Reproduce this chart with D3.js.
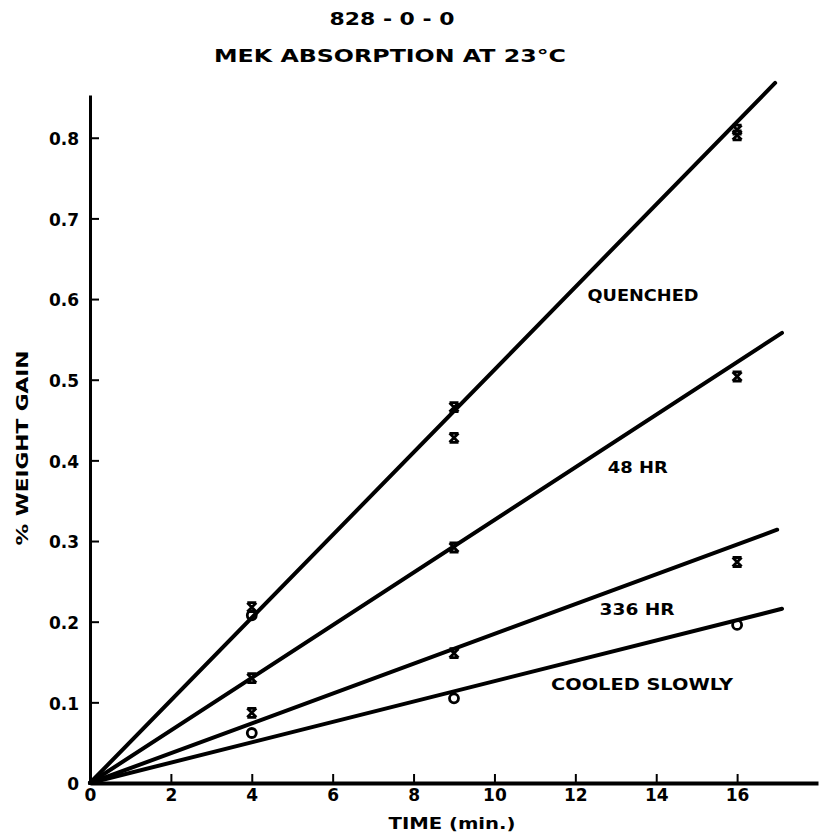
<!DOCTYPE html>
<meta charset="utf-8">
<script src="https://d3js.org/d3.v7.min.js"></script>
<style>
body { margin: 0; background: #fff; }
svg text { font-family: "DejaVu Sans", sans-serif; font-weight: 700; fill: #000; }
.tick text { font-size: 17px; }
.title { font-size: 18px; }
.label { font-size: 16px; }
</style>
<div id="chart"></div>
<script>
// [time, % weight gain]
const quenchedA = [[4, 0.218], [9, 0.466], [16, 0.81]];
const quenchedB = [[9, 0.428], [16, 0.803]];
const quenchedO = [[4, 0.208]];
const hr48 = [[4, 0.130], [9, 0.292], [16, 0.504]];
const hr336 = [[4, 0.087], [9, 0.161], [16, 0.274]];
const cooledSlowly = [[4, 0.062], [9, 0.105], [16, 0.196]];

// fitted lines, from origin to end point [time, gain]
const fitNames = ["QUENCHED", "48 HR", "336 HR", "COOLED SLOWLY"];
const fitEnds = [[16.94, 0.868], [17.11, 0.558], [16.99, 0.314], [17.11, 0.216]];
const labelPos = [[12.3, 0.605], [12.8, 0.391], [12.6, 0.215], [11.4, 0.122]];
const labelWidth = [111, 60, 75, 182];

const xTicks = [0, 2, 4, 6, 8, 10, 12, 14, 16];
const yTicks = [0, 0.1, 0.2, 0.3, 0.4, 0.5, 0.6, 0.7, 0.8];

const W = 819, H = 837;
const svg = d3.select("#chart").append("svg")
  .attr("width", W).attr("height", H);

const x = d3.scaleLinear().domain([0, 18]).range([90, 818]);
const y = d3.scaleLinear().domain([0, 0.853]).range([783, 95]);

// x axis
const gx = svg.append("g")
  .attr("transform", `translate(0,${y(0)})`)
  .call(d3.axisBottom(x).tickValues(xTicks).tickFormat(d3.format("d"))
    .tickSizeInner(-9).tickSizeOuter(0).tickPadding(6));
gx.select(".domain").attr("stroke-width", 4);
gx.selectAll(".tick line").attr("stroke-width", 2);

// y axis
const gy = svg.append("g")
  .attr("transform", `translate(${x(0)},0)`)
  .call(d3.axisLeft(y).tickValues(yTicks).tickFormat(d => d === 0 ? "0" : d3.format(".1f")(d))
    .tickSizeInner(-9).tickSizeOuter(0).tickPadding(11));
gy.select(".domain").attr("stroke-width", 3);
gy.selectAll(".tick line").attr("stroke-width", 2);
gy.selectAll(".tick text").attr("dy", "0.4em");

// fitted lines
svg.selectAll(".fit")
  .data(fitEnds)
  .join("line")
  .attr("class", "fit")
  .attr("x1", x(0)).attr("y1", y(0))
  .attr("x2", d => x(d[0])).attr("y2", d => y(d[1]))
  .attr("stroke", "#000").attr("stroke-width", 4)
  .attr("stroke-linecap", "round");

// line labels
svg.selectAll(".label.fitlabel")
  .data(fitNames)
  .join("text")
  .attr("class", "label fitlabel")
  .attr("x", (d, i) => x(labelPos[i][0]))
  .attr("y", (d, i) => y(labelPos[i][1]))
  .attr("dy", "0.35em")
  .attr("textLength", (d, i) => labelWidth[i])
  .attr("lengthAdjust", "spacingAndGlyphs")
  .text(d => d);

// markers
function crossPath(cx, cy) {
  const s = 4.5;
  return `M${cx - s},${cy - s}L${cx + s},${cy - s}M${cx - s},${cy + s}L${cx + s},${cy + s}` +
    `M${cx - s},${cy - s}L${cx + s},${cy + s}M${cx + s},${cy - s}L${cx - s},${cy + s}`;
}
[quenchedA, quenchedB, hr48, hr336].forEach(pts => {
  svg.append("g").selectAll("path")
    .data(pts)
    .join("path")
    .attr("d", d => crossPath(x(d[0]), y(d[1])))
    .attr("stroke", "#000").attr("stroke-width", 2.8).attr("fill", "none");
});
[quenchedO, cooledSlowly].forEach(pts => {
  svg.append("g").selectAll("circle")
    .data(pts)
    .join("circle")
    .attr("cx", d => x(d[0]))
    .attr("cy", d => y(d[1]))
    .attr("r", 4.5)
    .attr("stroke", "#000").attr("stroke-width", 2.8).attr("fill", "none");
});

// titles
svg.append("text").attr("class", "title")
  .attr("x", 392).attr("y", 25).attr("text-anchor", "middle")
  .attr("textLength", 125).attr("lengthAdjust", "spacingAndGlyphs")
  .text("828 - 0 - 0");
svg.append("text").attr("class", "title")
  .attr("x", 390).attr("y", 62).attr("text-anchor", "middle")
  .attr("textLength", 352).attr("lengthAdjust", "spacingAndGlyphs")
  .text("MEK ABSORPTION AT 23°C");

svg.append("text").attr("class", "label")
  .attr("x", 452).attr("y", 829).attr("text-anchor", "middle")
  .attr("textLength", 127).attr("lengthAdjust", "spacingAndGlyphs")
  .text("TIME (min.)");

svg.append("text").attr("class", "label")
  .attr("transform", "translate(28,448) rotate(-90)")
  .attr("text-anchor", "middle")
  .attr("textLength", 195).attr("lengthAdjust", "spacingAndGlyphs")
  .text("% WEIGHT GAIN");
</script>
